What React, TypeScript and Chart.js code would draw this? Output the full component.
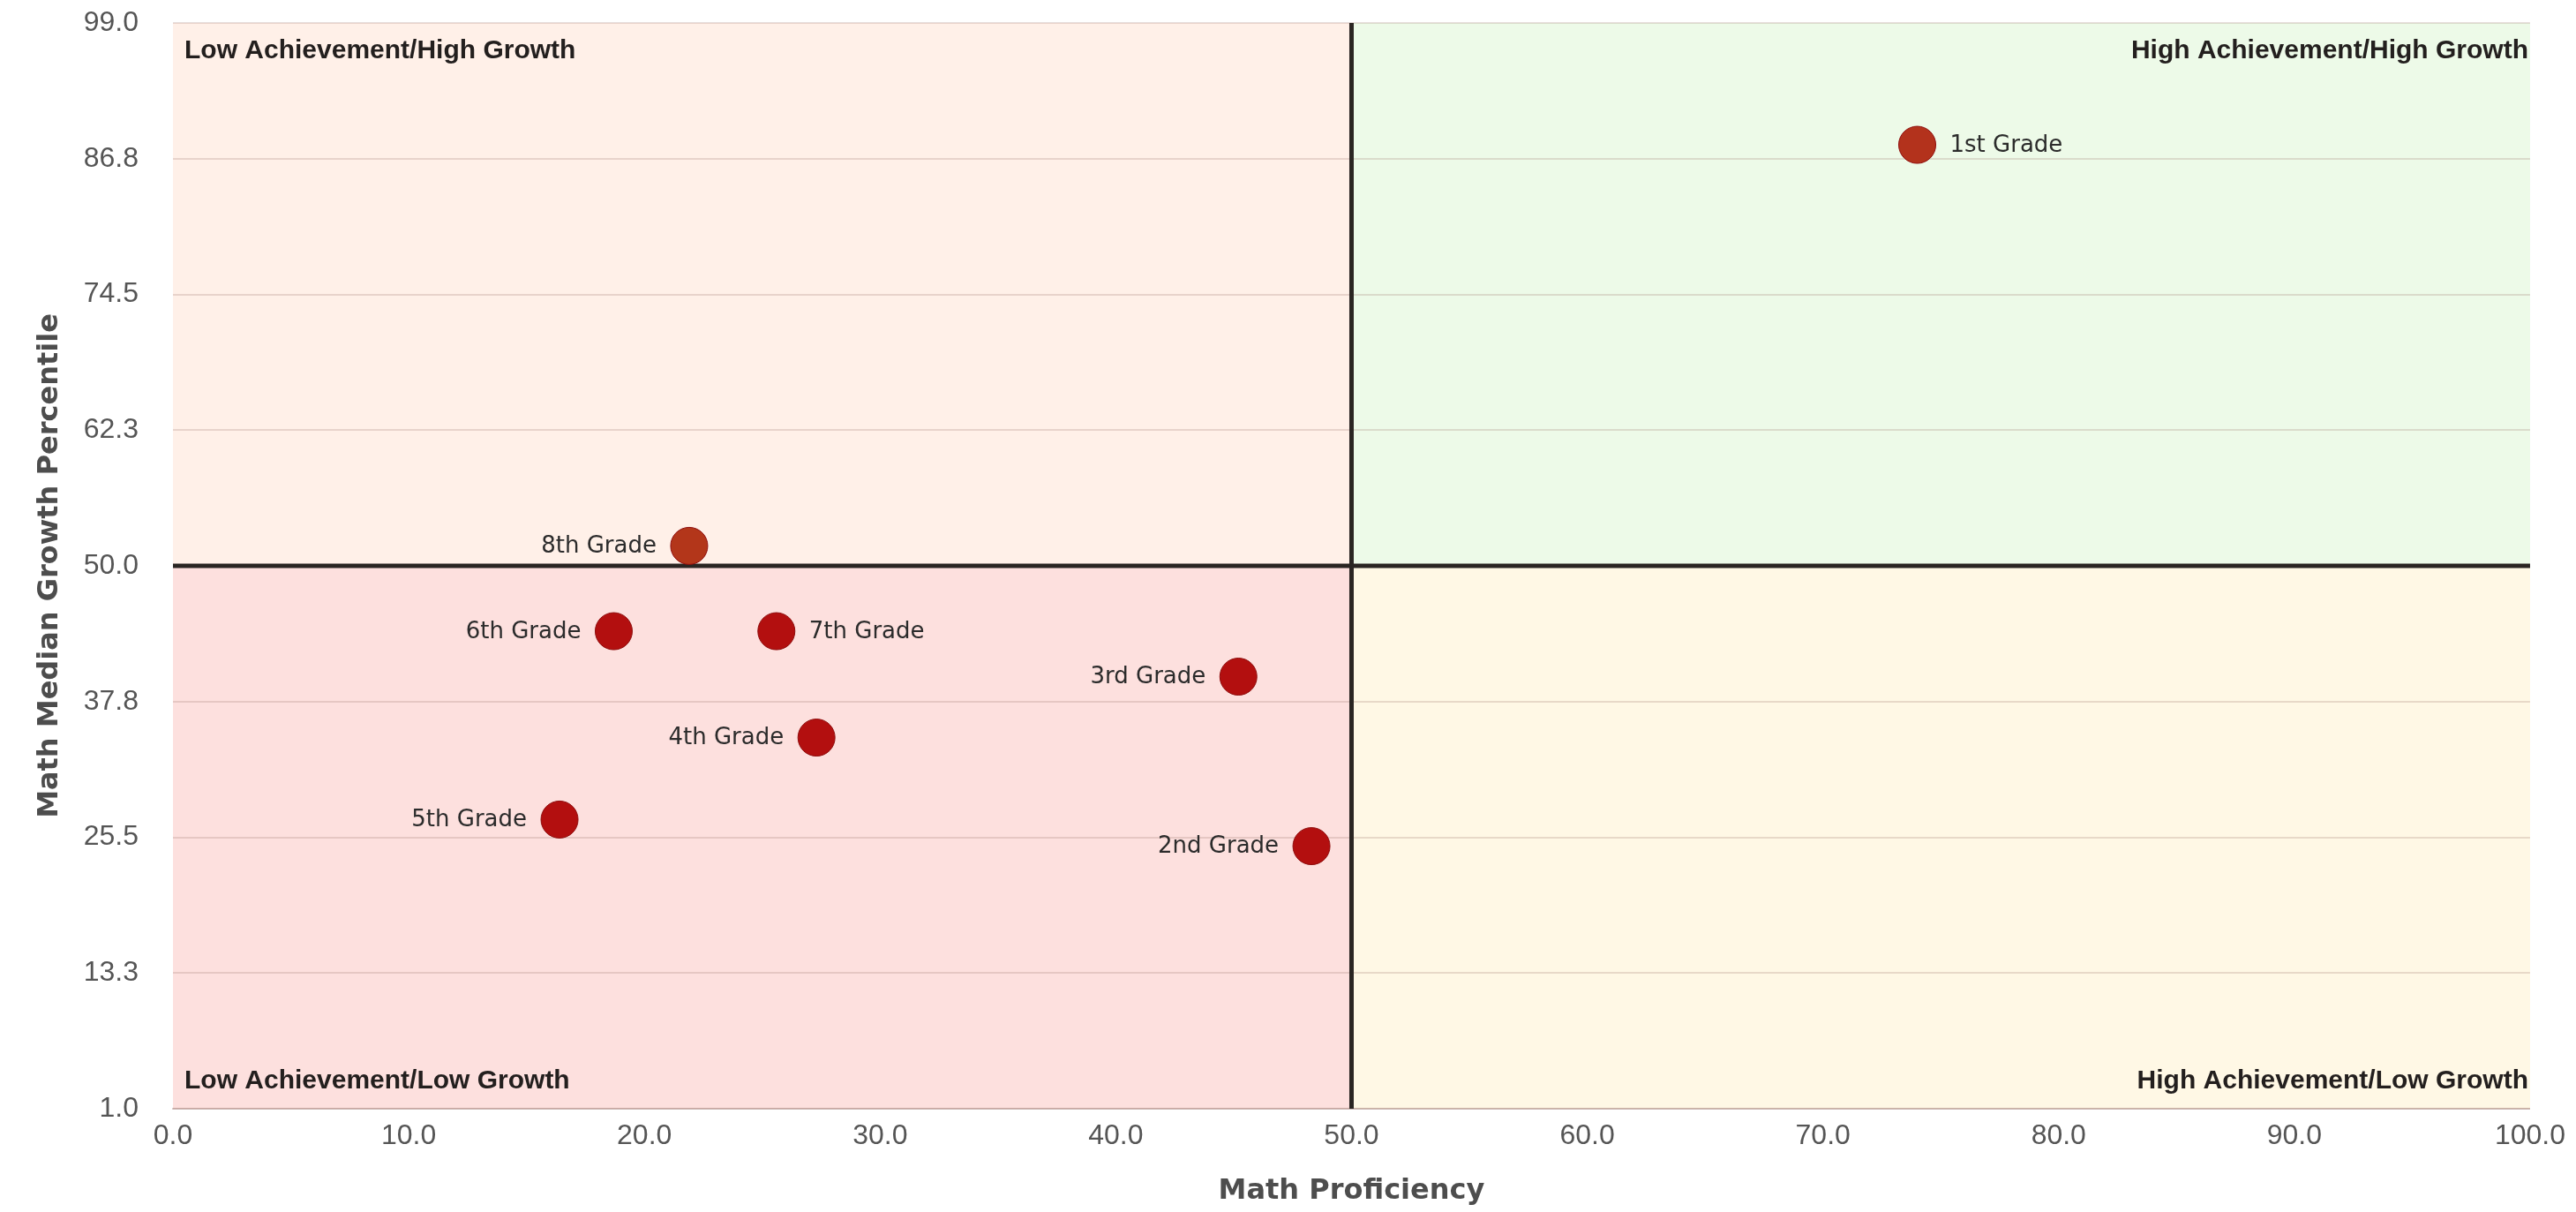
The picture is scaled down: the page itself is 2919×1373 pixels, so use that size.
import { useEffect, useRef } from 'react';
import { Chart, registerables } from 'chart.js';

Chart.register(...registerables);

// Grade-level results: proficiency (x) against median growth percentile (y)
const gradeLabels = ['1st Grade', '2nd Grade', '3rd Grade', '4th Grade', '5th Grade', '6th Grade', '7th Grade', '8th Grade'];
const proficiency = [74.0, 48.3, 45.2, 27.3, 16.4, 18.7, 25.6, 21.9];
const growthPercentile = [88.0, 24.7, 40.0, 34.5, 27.1, 44.1, 44.1, 51.8];
const labelSide = ['right', 'left', 'left', 'left', 'left', 'left', 'right', 'left'];
const pointColors = ['#b3321c', '#b30f0f', '#b30f0f', '#b30f0f', '#b30f0f', '#b30f0f', '#b30f0f', '#b3361a'];

// Axis ranges and quadrant split
const xMin = 0;
const xMax = 100;
const xStep = 10;
const yMin = 1;
const yMax = 99;
const yStep = 12.25;
const xSplit = 50;
const ySplit = 50;

const quadrantTitles = {
  topLeft: 'Low Achievement/High Growth',
  topRight: 'High Achievement/High Growth',
  bottomLeft: 'Low Achievement/Low Growth',
  bottomRight: 'High Achievement/Low Growth',
};

const quadrantFills = {
  topLeft: '#fff0e8',
  topRight: '#edfae8',
  bottomLeft: '#fde0de',
  bottomRight: '#fff8e5',
};

const POINT_RADIUS = 21;

const quadrantPlugin = {
  id: 'quadrants',
  beforeDraw(chart: any) {
    const { ctx, chartArea, scales } = chart;
    const { left, right, top, bottom } = chartArea;
    const cx = scales.x.getPixelForValue(xSplit);
    const cy = scales.y.getPixelForValue(ySplit);
    ctx.save();
    ctx.fillStyle = quadrantFills.topLeft;
    ctx.fillRect(left, top, cx - left, cy - top);
    ctx.fillStyle = quadrantFills.topRight;
    ctx.fillRect(cx, top, right - cx, cy - top);
    ctx.fillStyle = quadrantFills.bottomLeft;
    ctx.fillRect(left, cy, cx - left, bottom - cy);
    ctx.fillStyle = quadrantFills.bottomRight;
    ctx.fillRect(cx, cy, right - cx, bottom - cy);
    ctx.restore();
  },
  beforeDatasetsDraw(chart: any) {
    const { ctx, chartArea, scales } = chart;
    const { left, right, top, bottom } = chartArea;
    const cx = scales.x.getPixelForValue(xSplit);
    const cy = scales.y.getPixelForValue(ySplit);
    ctx.save();
    // divider lines
    ctx.strokeStyle = '#2a2522';
    ctx.lineWidth = 5;
    ctx.beginPath();
    ctx.moveTo(cx, top);
    ctx.lineTo(cx, bottom);
    ctx.moveTo(left, cy);
    ctx.lineTo(right, cy);
    ctx.stroke();

    // quadrant captions
    ctx.fillStyle = '#231f1e';
    ctx.font = 'bold 30px "Liberation Sans", Arial, sans-serif';
    ctx.textBaseline = 'middle';
    ctx.textAlign = 'left';
    ctx.fillText(quadrantTitles.topLeft, left + 13, top + 32);
    ctx.fillText(quadrantTitles.bottomLeft, left + 13, bottom - 31);
    ctx.textAlign = 'right';
    ctx.fillText(quadrantTitles.topRight, right - 2, top + 32);
    ctx.fillText(quadrantTitles.bottomRight, right - 2, bottom - 31);
    ctx.restore();
  },
  afterDatasetsDraw(chart: any) {
    const { ctx } = chart;
    const meta = chart.getDatasetMeta(0);
    ctx.save();
    ctx.fillStyle = '#2b2b2b';
    ctx.font = '26px "DejaVu Sans", Verdana, sans-serif';
    ctx.textBaseline = 'middle';
    meta.data.forEach((pt: any, i: number) => {
      const side = labelSide[i];
      const gap = POINT_RADIUS + 16;
      ctx.textAlign = side === 'right' ? 'left' : 'right';
      ctx.fillText(gradeLabels[i], side === 'right' ? pt.x + gap : pt.x - gap, pt.y + 1);
    });
    ctx.restore();
  },
};

export default function App() {
  const canvasRef = useRef<HTMLCanvasElement | null>(null);

  useEffect(() => {
    document.body.style.margin = '0';
    const canvas = canvasRef.current;
    if (!canvas) return;
    const chart = new Chart(canvas, {
      type: 'scatter',
      data: {
        datasets: [
          {
            label: 'Grades',
            data: proficiency.map((x, i) => ({ x, y: growthPercentile[i] })),
            backgroundColor: pointColors,
            borderColor: '#8e0c0c',
            borderWidth: 1,
            pointRadius: POINT_RADIUS,
            pointHoverRadius: POINT_RADIUS,
          },
        ],
      },
      options: {
        animation: false,
        responsive: true,
        maintainAspectRatio: false,
        layout: { padding: { left: 0, top: 26, right: 50, bottom: 0 } },
        plugins: {
          legend: { display: false },
          tooltip: { enabled: false },
        },
        scales: {
          x: {
            type: 'linear',
            min: xMin,
            max: xMax,
            afterFit(scale: any) {
              scale.height = 117;
            },
            ticks: {
              stepSize: xStep,
              padding: 12,
              color: '#555555',
              font: { family: '"Liberation Sans", Arial, sans-serif', size: 32 },
              callback: (v: any) => Number(v).toFixed(1),
            },
            grid: { display: false, drawTicks: false },
            border: { display: true, color: 'rgba(150,110,100,0.35)', width: 2 },
            title: {
              display: true,
              text: 'Math Proficiency',
              color: '#4d4d4d',
              font: { family: '"DejaVu Sans", Verdana, sans-serif', size: 32, weight: 'bold' },
              padding: { top: 0, bottom: 4 },
            },
          },
          y: {
            type: 'linear',
            min: yMin,
            max: yMax,
            afterFit(scale: any) {
              scale.width = 196;
            },
            ticks: {
              stepSize: yStep,
              padding: 4,
              color: '#555555',
              font: { family: '"Liberation Sans", Arial, sans-serif', size: 32 },
              callback: (v: any) => Number(v).toFixed(1),
            },
            grid: {
              color: 'rgba(150,110,100,0.22)',
              lineWidth: 2,
              drawTicks: true,
              tickLength: 35,
              tickColor: 'rgba(0,0,0,0)',
            },
            border: { display: false },
            title: {
              display: true,
              text: 'Math Median Growth Percentile',
              color: '#4d4d4d',
              font: { family: '"DejaVu Sans", Verdana, sans-serif', size: 32, weight: 'bold' },
              padding: { top: 37, bottom: 0 },
            },
          },
        },
      },
      plugins: [quadrantPlugin],
    });
    return () => chart.destroy();
  }, []);

  return (
    <div style={{ position: 'fixed', left: 0, top: 0, width: '2919px', height: '1373px', background: '#ffffff' }}>
      <canvas ref={canvasRef} style={{ display: 'block' }} />
    </div>
  );
}
